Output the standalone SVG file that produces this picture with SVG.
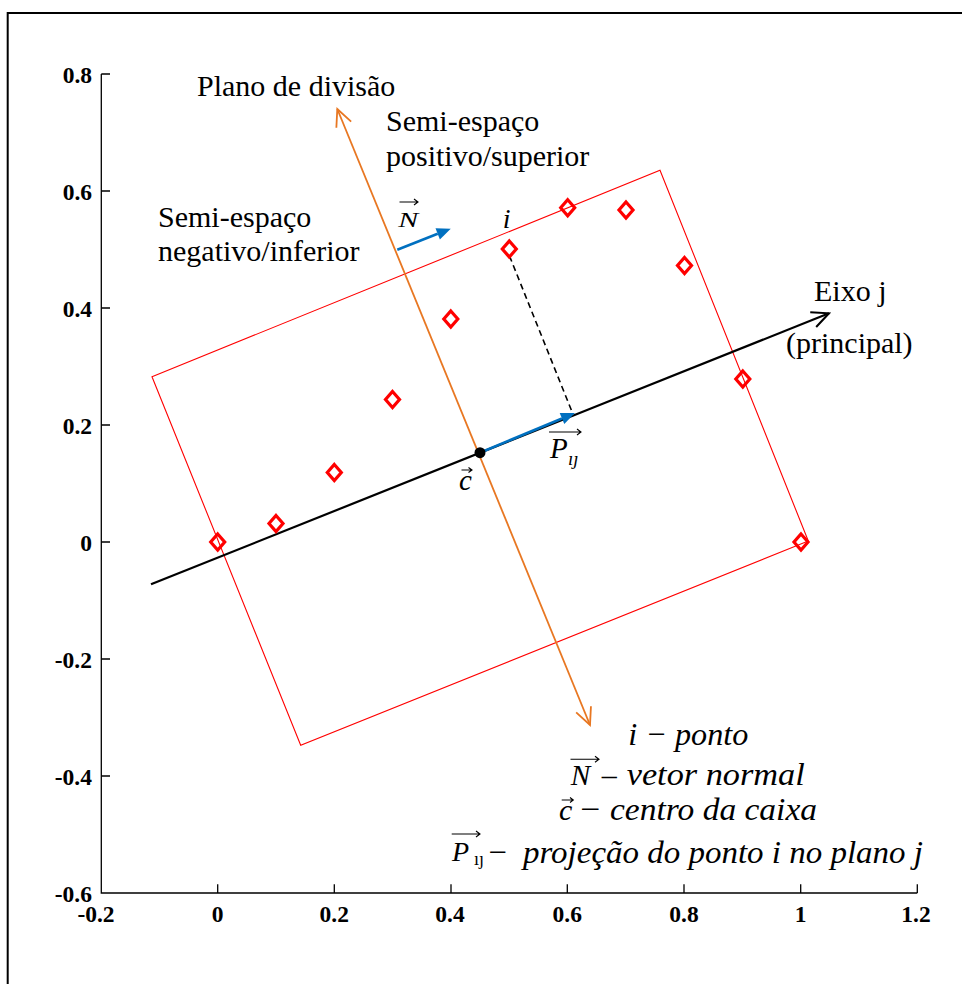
<svg xmlns="http://www.w3.org/2000/svg" width="962" height="984" viewBox="0 0 962 984">
<style>
.t{font-family:"Liberation Serif","Times New Roman",serif;font-size:30px;fill:#000}
.m{font-family:"Liberation Serif","Times New Roman",serif;font-style:italic;fill:#000}
.u{font-family:"Liberation Serif","Times New Roman",serif;fill:#000}
.tk{font-family:"Liberation Serif","Times New Roman",serif;font-weight:bold;font-size:23.5px;fill:#000}
.ax{stroke:#000;stroke-width:1.3;fill:none}
.dm{fill:none;stroke:#FF0000;stroke-width:3.2;stroke-linejoin:miter}
.oa{stroke:#000;stroke-width:1.1;fill:none}
</style>
<defs>
<marker id="openK" viewBox="-20 -10 22 20" refX="0" refY="0" markerWidth="22" markerHeight="20" markerUnits="userSpaceOnUse" orient="auto-start-reverse">
<path d="M-17,-8 L0,0 L-17,8" fill="none" stroke="#000" stroke-width="2"/>
</marker>
<marker id="openO" viewBox="-20 -10 22 20" refX="0" refY="0" markerWidth="22" markerHeight="20" markerUnits="userSpaceOnUse" orient="auto-start-reverse">
<path d="M-17,-8 L0,0 L-17,8" fill="none" stroke="#E87722" stroke-width="1.8"/>
</marker>
<marker id="fillB" viewBox="-1 -7 16 14" refX="0" refY="0" markerWidth="16" markerHeight="14" markerUnits="userSpaceOnUse" orient="auto">
<path d="M0,-6 L14,0 L0,6 Z" fill="#0070C0"/>
</marker>
<path id="dia" d="M0,-8 L7,0 L0,8 L-7,0 Z"/>
</defs>
<rect x="0" y="0" width="962" height="984" fill="#fff"/>
<rect id="frame" x="7.7" y="13" width="1000" height="1000" fill="none" stroke="#000" stroke-width="2"/>

<g id="axes">
<path class="ax" d="M101.3,74 V893 H917.3"/>
<path class="ax" d="M101.3,74 H110 M101.3,191 H110 M101.3,308 H110 M101.3,425 H110 M101.3,542 H110 M101.3,659 H110 M101.3,776 H110"/>
<path class="ax" d="M217.7,893 V884.3 M334.3,893 V884.3 M451,893 V884.3 M567.3,893 V884.3 M684,893 V884.3 M800.7,893 V884.3 M917.3,893 V884.3"/>
<g text-anchor="end">
<text class="tk" x="92" y="82.5">0.8</text>
<text class="tk" x="92" y="199.5">0.6</text>
<text class="tk" x="92" y="316.5">0.4</text>
<text class="tk" x="92" y="433.5">0.2</text>
<text class="tk" x="92" y="550.5">0</text>
<text class="tk" x="92" y="667.5">-0.2</text>
<text class="tk" x="92" y="784.5">-0.4</text>
<text class="tk" x="92" y="901.5">-0.6</text>
</g>
<g text-anchor="middle">
<text class="tk" x="96" y="922">-0.2</text>
<text class="tk" x="217.7" y="922">0</text>
<text class="tk" x="334.3" y="922">0.2</text>
<text class="tk" x="450" y="922">0.4</text>
<text class="tk" x="567.3" y="922">0.6</text>
<text class="tk" x="684" y="922">0.8</text>
<text class="tk" x="800.7" y="922">1</text>
<text class="tk" x="916" y="922">1.2</text>
</g>
</g>

<g id="box">
<polygon points="152,376.7 660,170.3 808.3,541 300.7,745.3" fill="none" stroke="#FF0000" stroke-width="1.1"/>
</g>

<g id="connectors">
<line id="eixo-j" x1="151" y1="584.3" x2="829" y2="313.3" stroke="#000" stroke-width="2.2" marker-end="url(#openK)"/>
<line id="plano" x1="337.3" y1="109" x2="590" y2="725" stroke="#E87722" stroke-width="1.8" marker-start="url(#openO)" marker-end="url(#openO)"/>
<line id="proj-dash" x1="509.5" y1="256" x2="571.7" y2="411" stroke="#000" stroke-width="1.6" stroke-dasharray="6,4"/>
<line id="vec-N" x1="397.3" y1="249.7" x2="437.7" y2="233.8" stroke="#0070C0" stroke-width="2.6" marker-end="url(#fillB)"/>
<line id="vec-P" x1="480" y1="452.7" x2="562" y2="418.5" stroke="#0070C0" stroke-width="2.6" marker-end="url(#fillB)"/>
</g>

<g id="points">
<use href="#dia" class="dm" x="217.7" y="542"/>
<use href="#dia" class="dm" x="276" y="523.5"/>
<use href="#dia" class="dm" x="334.3" y="472.5"/>
<use href="#dia" class="dm" x="392.5" y="399.5"/>
<use href="#dia" class="dm" x="450.8" y="319"/>
<use href="#dia" class="dm" x="509.3" y="249"/>
<use href="#dia" class="dm" x="567.7" y="207.7"/>
<use href="#dia" class="dm" x="626" y="210"/>
<use href="#dia" class="dm" x="684.5" y="265.5"/>
<use href="#dia" class="dm" x="742.8" y="379"/>
<use href="#dia" class="dm" x="801" y="542"/>
</g>

<g id="centro">
<circle cx="480" cy="452.7" r="5.5" fill="#000"/>
</g>

<g id="labels">
<text class="t" x="197" y="96.3">Plano de divisão</text>
<text class="t" x="386" y="131.3">Semi-espaço</text>
<text class="t" x="386" y="165.7">positivo/superior</text>
<text class="t" x="158" y="226.7">Semi-espaço</text>
<text class="t" x="158" y="261">negativo/inferior</text>
<text class="t" x="814" y="301">Eixo j</text>
<text class="t" x="786" y="353">(principal)</text>
</g>

<g id="label-N">
<text class="m" x="398.3" y="227.3" font-size="22" textLength="20" lengthAdjust="spacingAndGlyphs">N</text>
<path class="oa" d="M399.5,202 H418 M414,199 L418,202 L414,205"/>
</g>
<g id="label-i">
<text class="m" x="502.7" y="228.3" font-size="28">i</text>
</g>
<g id="label-c">
<text class="m" x="459" y="490" font-size="29">c</text>
<path class="oa" d="M461.5,470 H472 M468.5,467.5 L472,470 L468.5,472.5"/>
</g>
<g id="label-P">
<text class="m" x="550" y="458.3" font-size="29">P</text>
<text class="m" x="568" y="465" font-size="19">ıȷ</text>
<path class="oa" d="M549,432 H581 M577,429 L581,432 L577,435"/>
</g>

<g id="legend">
<text class="m" x="628.3" y="745" font-size="32" textLength="120" lengthAdjust="spacingAndGlyphs">i − ponto</text>
<text class="m" x="570.7" y="785" font-size="30" textLength="19.5" lengthAdjust="spacingAndGlyphs">N</text>
<path class="oa" d="M570.5,759.3 H599 M595,756.3 L599,759.3 L595,762.3"/>
<text class="u" x="601.7" y="785" font-size="30">–</text>
<text class="m" x="626.7" y="785" font-size="32" textLength="178" lengthAdjust="spacingAndGlyphs">vetor normal</text>
<text class="m" x="559" y="820" font-size="30">c</text>
<path class="oa" d="M561.7,800 H573.3 M570,797.5 L573.3,800 L570,802.5"/>
<text class="u" x="580" y="820" font-size="32" textLength="20" lengthAdjust="spacingAndGlyphs">−</text>
<text class="m" x="610" y="820" font-size="32" textLength="207" lengthAdjust="spacingAndGlyphs">centro da caixa</text>
<text class="m" x="452" y="861" font-size="28">P</text>
<text class="u" x="474" y="865" font-size="18">ıȷ</text>
<path class="oa" d="M451.7,834 H480 M476,831 L480,834 L476,837"/>
<text class="u" x="488.3" y="863" font-size="32" textLength="18.5" lengthAdjust="spacingAndGlyphs">−</text>
<text class="m" x="523" y="863" font-size="32" textLength="400" lengthAdjust="spacingAndGlyphs">projeção do ponto i no plano j</text>
</g>
</svg>
